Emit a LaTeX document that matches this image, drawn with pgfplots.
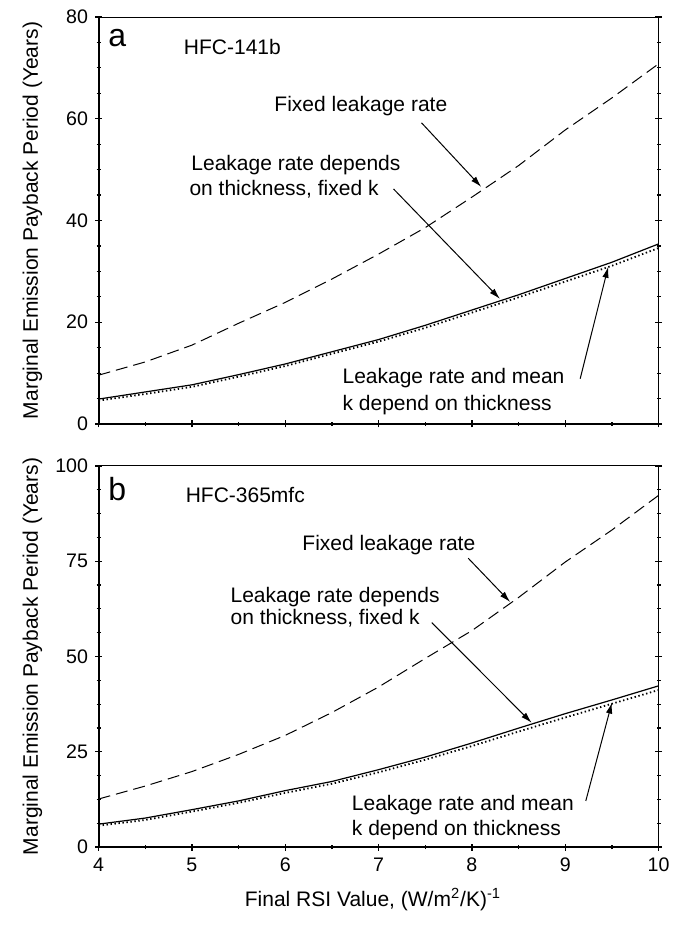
\documentclass[border=0pt]{standalone}
\usepackage{pgfplots}
\pgfplotsset{compat=1.18}
\usepackage{fontspec}
\setmainfont{Liberation Sans}
\usetikzlibrary{arrows.meta}

\pgfplotsset{
  rsi/.style={
    scale only axis, width=280pt,
    xmin=4, xmax=10, ymin=0,
    xtick={4,5,...,10}, minor x tick num=1, minor y tick num=3,
    xtick pos=left, ytick pos=both,
    tick align=center, major tick length=3.5pt, minor tick length=2pt,
    axis line style={line width=0.5pt},
    tick style={black, line width=0.6pt},
    tick label style={font=\fontsize{9.8}{11.5}\selectfont},
    /pgf/number format/assume math mode=true,
    every axis y label/.style={at={(axis description cs:-0.118,0.5)}, rotate=90, anchor=center},
    ylabel={Marginal Emission Payback Period (Years)},
    clip=false,
  },
  fixedrate/.style={black, line width=0.5pt, dash pattern=on 6pt off 3pt},
  thickdep/.style={black, line width=0.6pt},
  meank/.style={black, line width=0.9pt, dash pattern=on 0.7pt off 1.3pt},
}
\tikzset{
  callout/.style={-{Latex[length=5.5pt,width=3.2pt]}, line width=0.5pt, black},
  note/.style={anchor=base west, inner sep=0pt},
}

\begin{document}
\begin{tikzpicture}[font=\fontsize{10.5}{12.5}\selectfont]

% ---------------- (a) HFC-141b ----------------
\begin{axis}[rsi, name=top, height=203.5pt, at={(0,0)}, anchor=south west,
  ymax=80, ytick={0,20,40,60,80}, xticklabels={}]
  \addplot[fixedrate] coordinates {
    (4,9.6) (4.5,12.2) (5,15.5) (5.5,19.8) (6,23.9) (6.5,28.5) (7,33.4)
    (7.5,38.6) (8,44.6) (8.5,50.8) (9,57.8) (9.5,64.1) (10,70.8)};
  \addplot[thickdep] coordinates {
    (4,4.9) (4.5,6.3) (5,7.7) (5.5,9.7) (6,11.8) (6.5,14.2) (7,16.6)
    (7.5,19.4) (8,22.4) (8.5,25.4) (9,28.6) (9.5,31.8) (10,35.4)};
  \addplot[meank] coordinates {
    (4,4.6) (4.5,5.9) (5,7.3) (5.5,9.3) (6,11.4) (6.5,13.8) (7,16.2)
    (7.5,18.9) (8,21.9) (8.5,24.9) (9,28.0) (9.5,31.1) (10,34.6)};
  \draw[line width=1pt] (rel axis cs:0,1) -- (rel axis cs:0,0) -- (rel axis cs:1,0);
  \node[note] at (axis cs:4.10,74.3) {\fontsize{16}{16}\selectfont a};
  \node[note] at (axis cs:4.91,72.6) {HFC-141b};
  \node[note] at (axis cs:5.88,61.5) {Fixed leakage rate};
  \node[note] at (axis cs:4.99,49.8) {Leakage rate depends};
  \node[note] at (axis cs:4.97,44.9) {on thickness, fixed k};
  \node[note] at (axis cs:6.61,8.0) {Leakage rate and mean};
  \node[note] at (axis cs:6.61,2.7) {k depend on thickness};
  \draw[callout] (axis cs:7.46,59.2) -- (axis cs:8.10,46.6);
  \draw[callout] (axis cs:7.16,46.2) -- (axis cs:8.30,24.6);
  \draw[callout] (axis cs:9.16,8.9) -- (axis cs:9.46,30.9);
\end{axis}

% ---------------- (b) HFC-365mfc ----------------
\begin{axis}[rsi, name=bottom, height=190.5pt, at={(0,-21pt)}, anchor=north west,
  ymax=100, ytick={0,25,50,75,100},
  every axis x label/.style={at={(axis description cs:0.49,-0.139)}, anchor=center},
  xlabel={Final RSI Value, (W/m\textsuperscript{2}/K)\textsuperscript{-1}}]
  \addplot[fixedrate] coordinates {
    (4,12.6) (4.5,16.0) (5,19.8) (5.5,24.3) (6,29.3) (6.5,35.3) (7,42.0)
    (7.5,49.5) (8,56.8) (8.5,65.5) (9,74.8) (9.5,83.2) (10,92.3)};
  \addplot[thickdep] coordinates {
    (4,6.0) (4.5,7.6) (5,9.8) (5.5,12.1) (6,14.8) (6.5,17.2) (7,20.3)
    (7.5,23.6) (8,27.3) (8.5,31.2) (9,35.0) (9.5,38.6) (10,42.3)};
  \addplot[meank] coordinates {
    (4,5.6) (4.5,7.1) (5,9.3) (5.5,11.6) (6,14.2) (6.5,16.6) (7,19.6)
    (7.5,22.9) (8,26.5) (8.5,30.3) (9,34.0) (9.5,37.6) (10,41.2)};
  \draw[line width=1pt] (rel axis cs:0,1) -- (rel axis cs:0,0) -- (rel axis cs:1,0);
  \node[note] at (axis cs:4.10,90.9) {\fontsize{16}{16}\selectfont b};
  \node[note] at (axis cs:4.93,90.5) {HFC-365mfc};
  \node[note] at (axis cs:6.18,77.7) {Fixed leakage rate};
  \node[note] at (axis cs:5.41,64.2) {Leakage rate depends};
  \node[note] at (axis cs:5.41,58.4) {on thickness, fixed k};
  \node[note] at (axis cs:6.71,9.5) {Leakage rate and mean};
  \node[note] at (axis cs:6.71,3.0) {k depend on thickness};
  \draw[callout] (axis cs:7.96,75.8) -- (axis cs:8.41,64.3);
  \draw[callout] (axis cs:7.57,58.9) -- (axis cs:8.64,32.6);
  \draw[callout] (axis cs:9.22,12.1) -- (axis cs:9.50,37.9);
\end{axis}

\pgfresetboundingbox
\path[use as bounding box] (-49.3pt,-250.5pt) rectangle (293.7pt,212pt);
\end{tikzpicture}
\end{document}
